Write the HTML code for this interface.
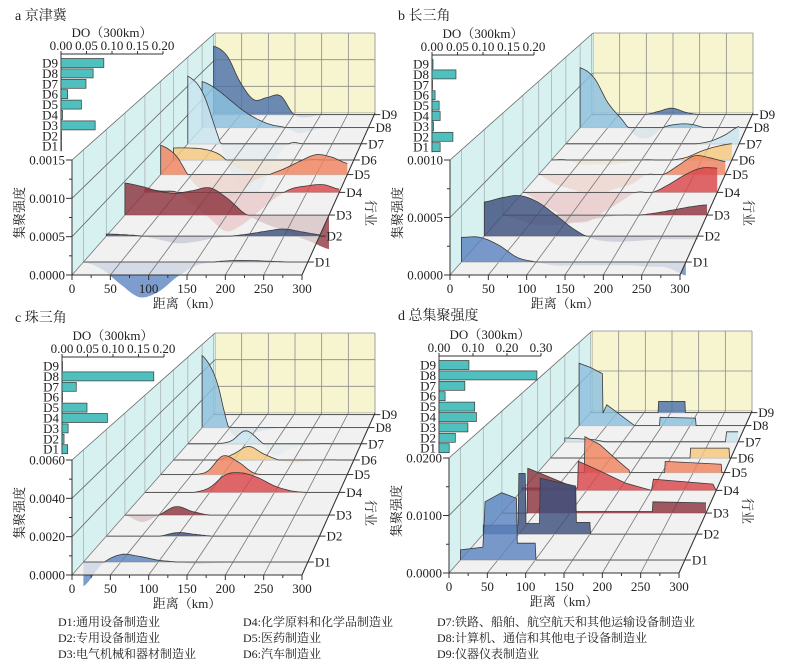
<!DOCTYPE html>
<html><head><meta charset="utf-8">
<style>
html,body{margin:0;padding:0;background:#fff;}
svg{display:block;font-family:"Liberation Serif","Noto Serif CJK SC",serif;}
</style></head>
<body>
<svg id="chart" width="786" height="670" viewBox="0 0 786 670" xmlns="http://www.w3.org/2000/svg"></svg>
<script>
// ---------- data ----------
const distStd=[0,25,50,75,100,125,150,175,200,225,250,275,300];
const rowNames=['D1','D2','D3','D4','D5','D6','D7','D8','D9'];
const xTicks=[0,50,100,150,200,250,300];
const yTicksA=[0,0.0005,0.0010,0.0015];
const yTicksB=[0,0.0005,0.0010];
const yTicksC=[0,0.0020,0.0040,0.0060];
const yTicksD=[0,0.0100,0.0200];
const barTicksAB=[0,0.05,0.10,0.15,0.20];
const barTicksD=[0,0.10,0.20,0.30];
const barsA=[0,0.001,0.067,0.003,0.040,0.013,0.049,0.063,0.084];
const barsB=[0.016,0.041,0.003,0.016,0.014,0.006,0,0.047,0.002];
const barsC=[0.011,0.004,0.012,0.089,0.049,0,0.028,0.180,0];
const barsD=[0.030,0.048,0.085,0.110,0.105,0.018,0.076,0.288,0.088];
const valsA=[
[0,-0.0001,-0.0003,-0.00047,-0.0004,-0.0002,-0.00005,0,0.00002,0.00002,0.00001,0,0],
[0.00003,0.00002,0,-0.00005,-0.0001,-0.00008,-0.00003,0,0.00003,0.00007,0.0001,0.00006,0.00002],
[0.00047,0.00042,0.00035,0.00032,0.00036,0.0004,0.00025,0.00003,-0.0001,-0.0002,-0.0003,-0.0004,-0.0005],
[0.00005,0.00002,0,-0.0002,-0.0004,-0.0006,-0.0005,-0.0003,-0.0001,0.00005,0.0001,0.00012,0.00005],
[0.00047,0.0003,-0.0001,-0.0003,-0.0004,-0.0003,-0.0001,0,0.0001,0.00022,0.00032,0.00028,0.00018],
[0.0002,0.0002,0.00018,0.0001,-0.0001,-0.0002,-0.00025,-0.0002,-0.0001,0,0,0,0],
[0.00117,0.0009,0.0002,-0.0005,-0.0009,-0.0008,-0.0003,0,0,0,0,0,0],
[0.00083,0.0007,0.0005,0.0003,0.00015,0.00005,0,-0.0001,-0.00005,0,0,0,0],
[0.00128,0.0011,0.0006,0.00028,0.00032,0.00035,0,-0.00005,0,0,0,0,0]];
const valsB=[
[0.00022,0.00022,0.00015,0.00004,0,-0.00003,-0.00003,-0.00003,-0.00003,-0.00003,-0.00004,-0.00005,-0.00012],
[0.00032,0.00036,0.00038,0.00032,0.0002,0.00007,-0.00002,-0.00005,-0.00005,-0.00004,-0.00003,-0.00003,-0.00003],
[0,-0.00005,-0.0001,-0.0001,-0.00008,-0.00005,-0.00002,0,0,0.00002,0.00005,0.00008,0.0001],
[0,-0.0001,-0.0002,-0.0003,-0.0003,-0.0002,-0.0001,0,0,0.00008,0.00018,0.00025,0.00025],
[0,-0.0001,-0.00015,-0.0002,-0.0002,-0.00015,-0.0001,0,0,0.0001,0.0002,0.00018,0.00014],
[0,0,-0.00005,-0.00005,-0.00005,-0.00003,0,0,0,0.00003,0.0001,0.00015,0.00018],
[0,0,0,0,0,0,0,0,0,0,0.00003,0.0001,0.0002],
[0.00072,0.0006,0.0003,0.0001,-0.0001,-0.00012,0,0.00004,0.00004,0,0,0,0],
[0,0,0,0,0,0.00004,0.00008,0.00003,0,0,0,0,0]];
const valsC=[
[-0.0013,-0.0001,0.0004,0.0003,0.0001,0,-0.0001,-0.00005,0,0,0,0,0],
[0,0,0,0,0.0002,0.0001,0,0,0,0,0,0,0],
[0,-0.0004,0,0.0005,0.0002,0,0,0,0,0,0,0,0],
[0,0,0,0,0.0003,0.0011,0.0012,0.0009,0.0004,0.0001,0,0,0],
[0,0,0,0.0002,0.0012,0.0008,0.0001,0,0,0,0,0,0],
[0,0,0,0,0.0004,0.0009,0.0004,0,-0.0002,-0.0001,0,0,0],
[0,0,0,0.0002,0.0009,0.0002,-0.0008,-0.0004,-0.0001,0,0,0,0],
[0.0052,0.0035,-0.0002,-0.0005,-0.0003,-0.0001,0,0,0,0,0,0,0],
[0,0,0,0,0,0,0,0,0,0,0,0,0]];
const distD=[
[0,30,33,55,75,76,100,101,300],
[0,49,50,59,60,79,80,130,131,150,151,300],
[0,37,38,107,108,221,222,300],
[0,86,87,120,160,200,203,295,300],
[0,75,76,100,125,147,148,204,205,295,296,300],
[0,232,233,297,298,300],
[0,50,70,278,280,300],
[0,20,42,43,50,70,90,100,145,146,210,211,300],
[0,126,127,176,177,300]];
const valsD=[
[0.0018,0.0023,0.0104,0.012,0.011,0.003,0.003,0,0],
[0.0017,0.0017,0.0114,0.0114,0.002,0.002,0.0105,0.009,0.0022,0.0022,0,0],
[0,0,0.0088,0.005,0.0003,0.0003,0.0022,0.002],
[0.0005,0.0005,0.006,0.004,0.0015,0,0.0023,0.0013,0],
[0,0,0.0077,0.006,0.003,0.0005,0,0,0.0024,0.0018,0,0],
[0,0,0.0022,0.0022,0,0],
[0.0009,0.0005,0,0,0.0023,0.0023],
[0.015,0.014,0.0125,0.003,0.005,0.003,0.001,0,0,0.002,0.0018,0,0],
[0,0,0.0028,0.0028,0,0]];

// ---------- styling / geometry ----------
const colors=['#5b84c0','#3d4f7c','#8e3540','#d9474b','#f0825f','#f6c77c','#c8e4ef','#8cc0dd','#4c72aa'];
const rowT=[0.08,0.24,0.37,0.51,0.62,0.71,0.81,0.91,0.99];
const panels=[
 {key:'a',title:'a  京津冀',ox:72,oy:275,zmax:0.0015,yt:yTicksA,dec:4,smooth:true,vals:valsA,bars:barsA,bt:barTicksAB,bmax:0.2,bx:61,by:54,tx:15,ty:20},
 {key:'b',title:'b  长三角',ox:450,oy:275,zmax:0.0010,yt:yTicksB,dec:4,smooth:true,vals:valsB,bars:barsB,bt:barTicksAB,bmax:0.2,bx:432,by:55,tx:398,ty:20},
 {key:'c',title:'c  珠三角',ox:72,oy:575,zmax:0.0060,yt:yTicksC,dec:4,smooth:true,vals:valsC,bars:barsC,bt:barTicksAB,bmax:0.2,bx:62,by:357,tx:15,ty:322},
 {key:'d',title:'d  总集聚强度',ox:449,oy:573,zmax:0.0200,yt:yTicksD,dec:4,smooth:false,vals:valsD,dists:distD,bars:barsD,bt:barTicksD,bmax:0.3,bx:439,by:356,tx:398,ty:320}
];
const NS='http://www.w3.org/2000/svg';
const svg=document.getElementById('chart');
function mk(tag,attrs,parent){const e=document.createElementNS(NS,tag);for(const k in attrs)e.setAttribute(k,attrs[k]);(parent||svg).appendChild(e);return e;}
function pts(a){return a.map(p=>p[0].toFixed(1)+','+p[1].toFixed(1)).join(' ');}
function smoothSample(xs,ys){
  const out=[];
  for(let i=0;i<xs.length-1;i++){
    const p0=ys[Math.max(i-1,0)],p1=ys[i],p2=ys[i+1],p3=ys[Math.min(i+2,ys.length-1)];
    for(let s=0;s<8;s++){const t=s/8;
      const v=0.5*((2*p1)+(-p0+p2)*t+(2*p0-5*p1+4*p2-p3)*t*t+(-p0+3*p1-3*p2+p3)*t*t*t);
      out.push([xs[i]+(xs[i+1]-xs[i])*t,v]);}
  }
  out.push([xs[xs.length-1],ys[ys.length-1]]);
  return out;
}

panels.forEach(pn=>{
  const g=mk('g',{});
  
  
  const P=(x,z,t)=>{const s=1-0.3043*t;return [pn.ox+143*t+x/300*230*s, pn.oy-162*t-z/pn.zmax*115*s];};
  const tt=mk('text',{x:pn.tx,y:pn.ty,'font-size':14,fill:'#222'},g);tt.textContent=pn.title;
  
  
  const bw=mk('polygon',{points:pts([P(0,0,1),P(300,0,1),P(300,pn.zmax,1),P(0,pn.zmax,1)]),fill:'#f7f5cf'},g);
  
  
  xTicks.forEach(x=>{const a=P(x,0,1),b=P(x,pn.zmax,1);
    const l=mk('line',{x1:a[0],y1:a[1],x2:b[0],y2:b[1],stroke:'#8a8a8a','stroke-width':0.8},g);
    
    });
  pn.yt.forEach(z=>{const a=P(0,z,1),b=P(300,z,1);
    const l=mk('line',{x1:a[0],y1:a[1],x2:b[0],y2:b[1],stroke:'#8a8a8a','stroke-width':0.8},g);
    
    });
  const lw=mk('polygon',{points:pts([P(0,0,0),P(0,0,1),P(0,pn.zmax,1),P(0,pn.zmax,0)]),fill:'#d3eeee','fill-opacity':0.9},g);
  
  
  rowT.forEach(t=>{const a=P(0,0,t),b=P(0,pn.zmax,t);
    const l=mk('line',{x1:a[0],y1:a[1],x2:b[0],y2:b[1],stroke:'#a9b4b4','stroke-width':0.8},g);
    
    });
  pn.yt.forEach(z=>{if(z===0)return;const a=P(0,z,0),b=P(0,z,1);
    const l=mk('line',{x1:a[0],y1:a[1],x2:b[0],y2:b[1],stroke:'#666','stroke-width':0.8},g);
    
    });
  const series=pn.vals.map((v,i)=>pn.smooth?smoothSample(distStd,v):pn.dists[i].map((x,j)=>[x,v[j]]));
  for(let i=8;i>=0;i--){const t=rowT[i];const s=series[i];
    const poly=[P(0,0,t)].concat(s.map(p=>P(p[0],Math.min(p[1],0),t))).concat([P(300,0,t)]);
    const n=mk('polygon',{points:pts(poly),fill:colors[i],'fill-opacity':0.8},g);
    
    }
  const fl=mk('polygon',{points:pts([P(0,0,0),P(300,0,0),P(300,0,1),P(0,0,1)]),fill:'#ededed','fill-opacity':0.78},g);
  
  
  xTicks.forEach(x=>{const a=P(x,0,0),b=P(x,0,1);
    const l=mk('line',{x1:a[0],y1:a[1],x2:b[0],y2:b[1],stroke:'#777','stroke-width':0.8},g);
    
    });
  for(let i=8;i>=0;i--){const t=rowT[i];const s=series[i];
    const base=mk('line',{x1:P(0,0,t)[0],y1:P(0,0,t)[1],x2:P(300,0,t)[0],y2:P(300,0,t)[1],stroke:'#c4c4c4','stroke-width':1.2},g);
    
    
    const poly=[P(0,0,t)].concat(s.map(p=>P(p[0],Math.max(p[1],0),t))).concat([P(300,0,t)]);
    const f=mk('polygon',{points:pts(poly),fill:colors[i],'fill-opacity':0.82},g);
    
    
    const line=[P(0,0,t)].concat(s.map(p=>P(p[0],Math.max(p[1],0),t)));
    const pl=mk('polyline',{points:pts(line),fill:'none',stroke:'#3a3a3a','stroke-width':0.8},g);
    
    }
  const fa=P(0,0,0),fb=P(300,0,0),bb=P(300,0,1);
  const xa=mk('line',{x1:fa[0],y1:fa[1],x2:fb[0],y2:fb[1],stroke:'#333','stroke-width':1},g);
  
  
  const ra=mk('line',{x1:fb[0],y1:fb[1],x2:bb[0],y2:bb[1],stroke:'#333','stroke-width':1},g);
  
  
  const ya=mk('line',{x1:fa[0],y1:fa[1],x2:fa[0],y2:P(0,pn.zmax,0)[1],stroke:'#333','stroke-width':1},g);
  
  
  for(let x=0;x<=300;x+=25){const p=P(x,0,0);const major=x%50===0;
    const tk=mk('line',{x1:p[0],y1:p[1],x2:p[0],y2:p[1]+(major?5:3),stroke:'#333','stroke-width':1},g);
    
    }
  xTicks.forEach(x=>{const p=P(x,0,0);
    const tx=mk('text',{x:p[0],y:p[1]+18,'font-size':13,'text-anchor':'middle',fill:'#222'},g);tx.textContent=x;
    
    });
  const n=pn.yt.length-1;
  for(let k=0;k<=n*2;k++){const z=pn.zmax*k/(n*2);const p=P(0,z,0);
    const tk=mk('line',{x1:p[0],y1:p[1],x2:p[0]-(k%2===0?6:3),y2:p[1],stroke:'#333','stroke-width':1},g);
    
    }
  pn.yt.forEach(z=>{const p=P(0,z,0);
    const tx=mk('text',{x:p[0]-7,y:p[1]+4.5,'font-size':13,'text-anchor':'end',fill:'#222'},g);tx.textContent=z.toFixed(pn.dec);
    
    });
  rowNames.forEach((nm,i)=>{const p=P(300,0,rowT[i]);
    const tk=mk('line',{x1:p[0],y1:p[1],x2:p[0]+6,y2:p[1],stroke:'#333','stroke-width':1},g);
    
    
    const tx=mk('text',{x:p[0]+7,y:p[1]+4.5,'font-size':13,fill:'#222'},g);tx.textContent=nm;
    
    });
  const xt=mk('text',{x:pn.ox+115,y:pn.oy+33,'font-size':13,'text-anchor':'middle',fill:'#222'},g);xt.textContent='距离（km）';
  
  
  const yt=mk('text',{x:0,y:0,'font-size':13,'text-anchor':'middle',fill:'#222',transform:`translate(${pn.ox-48},${pn.oy-62}) rotate(-90)`},g);yt.textContent='集聚强度';
  
  
  const it=mk('text',{x:0,y:0,'font-size':13,'text-anchor':'middle',fill:'#222',transform:`translate(${pn.ox+294},${pn.oy-62}) rotate(90)`},g);it.textContent='行业';
  
  
  const bw2=102,rowH=10.4;
  const bsc=v=>pn.bx+v/pn.bmax*bw2;
  const bt=mk('text',{x:pn.bx+bw2/2,y:pn.by-17,'font-size':13,'text-anchor':'middle',fill:'#222'},g);bt.textContent='DO（300km）';
  
  
  const bax=mk('line',{x1:pn.bx,y1:pn.by,x2:pn.bx+bw2,y2:pn.by,stroke:'#333','stroke-width':1},g);
  
  
  const bay=mk('line',{x1:pn.bx,y1:pn.by,x2:pn.bx,y2:pn.by+9+8*rowH+5,stroke:'#333','stroke-width':1},g);
  
  
  pn.bt.forEach(v=>{const x=bsc(v);
    const tk=mk('line',{x1:x,y1:pn.by,x2:x,y2:pn.by-3,stroke:'#333','stroke-width':1},g);
    
    
    const tx=mk('text',{x:x,y:pn.by-4,'font-size':13,'text-anchor':'middle',fill:'#222'},g);tx.textContent=v.toFixed(2);
    
    });
  rowNames.forEach((nm,i)=>{const cy=pn.by+9+(8-i)*rowH;
    const r=mk('rect',{x:pn.bx,y:cy-4.5,width:Math.max(bsc(pn.bars[i])-pn.bx,0.5),height:9,fill:'#4fc0bd',stroke:'#3a3a3a','stroke-width':0.7},g);
    
    
    const tx=mk('text',{x:pn.bx-3,y:cy+4.5,'font-size':13,'text-anchor':'end',fill:'#222'},g);tx.textContent=nm;
    
    });
});
const legendItems=[['D1:通用设备制造业',58,626],['D2:专用设备制造业',58,642],['D3:电气机械和器材制造业',58,658],
 ['D4:化学原料和化学品制造业',243,626],['D5:医药制造业',243,642],['D6:汽车制造业',243,658],
 ['D7:铁路、船舶、航空航天和其他运输设备制造业',437,626],['D8:计算机、通信和其他电子设备制造业',437,642],['D9:仪器仪表制造业',437,658]];
legendItems.forEach(it=>{
  const t=mk('text',{x:it[1],y:it[2],'font-size':12,fill:'#222'});t.textContent=it[0];
  
  
});
</script>
</body></html>
